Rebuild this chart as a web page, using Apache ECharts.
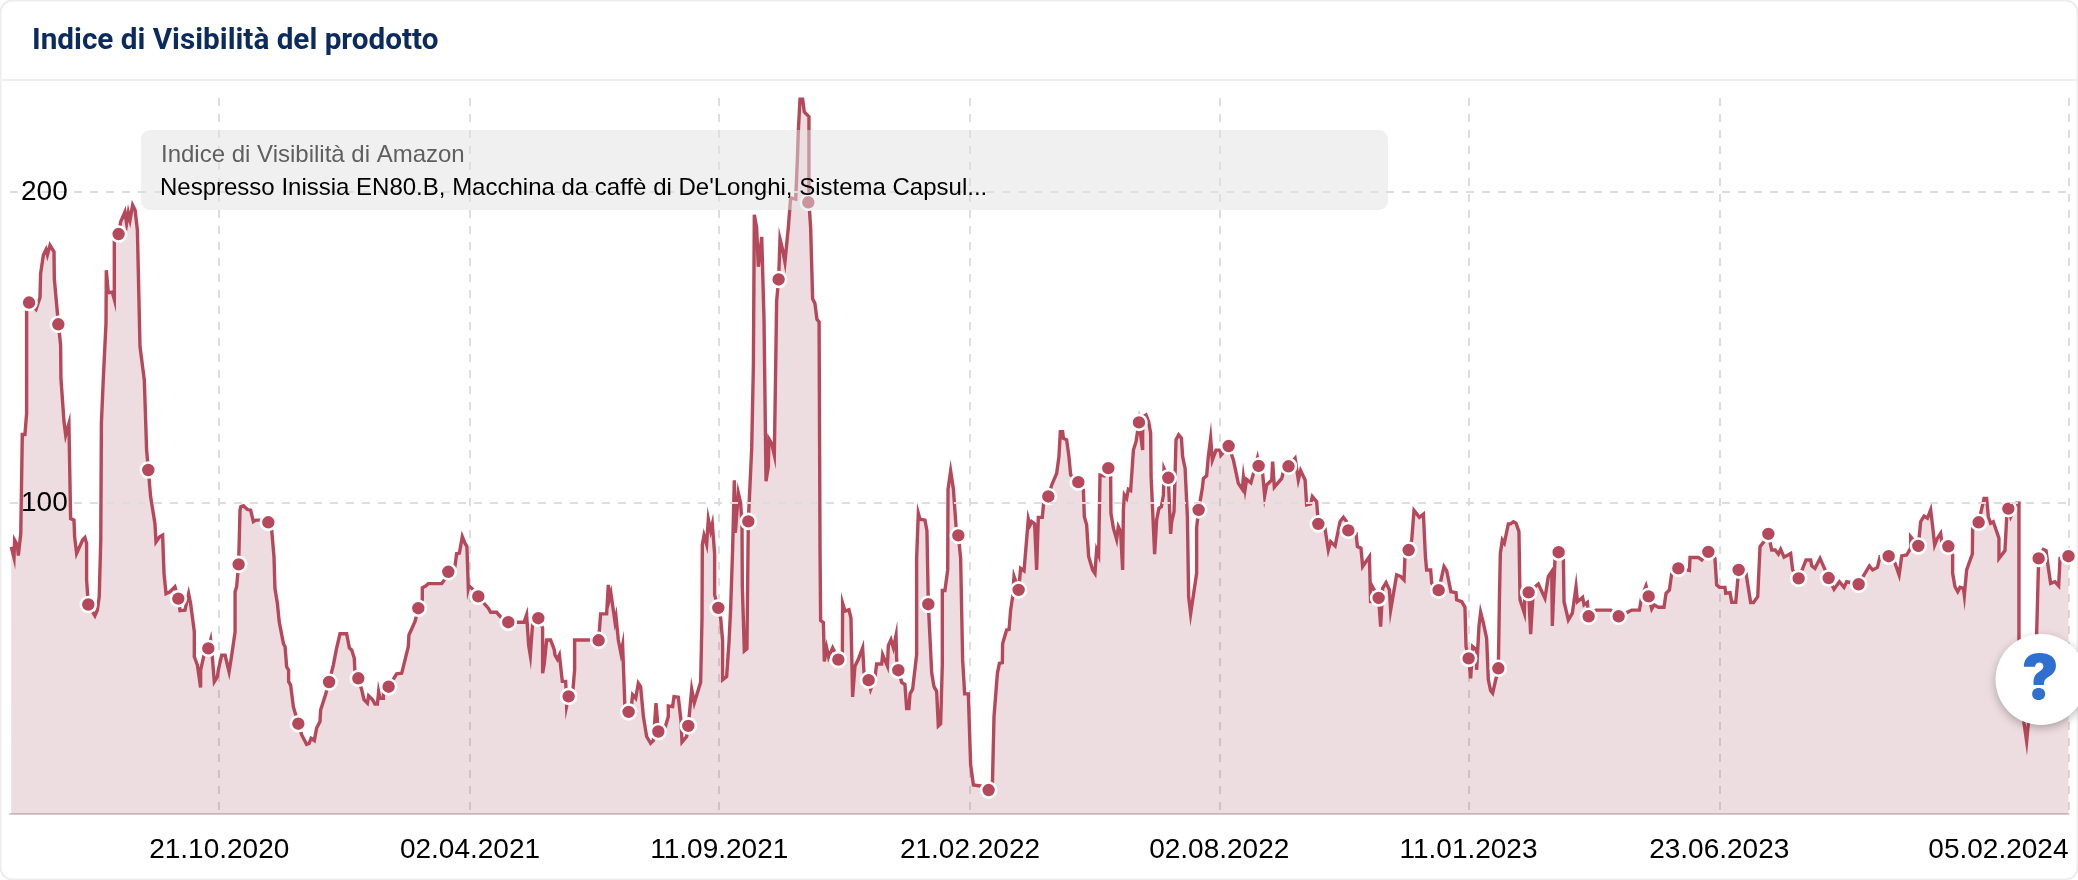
<!DOCTYPE html>
<html><head><meta charset="utf-8">
<style>html,body{margin:0;padding:0;background:#fff}#c{width:2078px;height:880px}</style>
<script src="https://cdn.jsdelivr.net/npm/echarts@6/dist/echarts.min.js"></script>
</head><body><div id="c"></div>
<script>
const chartTitle = "Indice di Visibilità del prodotto";
const boxTitle = "Indice di Visibilità di Amazon";
const boxProduct = "Nespresso Inissia EN80.B, Macchina da caffè di De'Longhi, Sistema Capsul...";
const tickDays = [136,299,461,624,786,948,1111,1338];
const tickLabels = ["21.10.2020","02.04.2021","11.09.2021","21.02.2022","02.08.2022","11.01.2023","23.06.2023","05.02.2024"];
const yTicks = [100,200];
// days since 07.06.2020, index value
const visibility = [
[0.8,85.8],[2.6,82.3],[3,88],[4.8,86.4],[5.4,83],[7,90.1],[8,121.9],[9.7,121.9],[10.8,128.7],[10.8,164],[12.4,164.3],[16.9,162.1],[19.5,165.9],[19.9,173.6],[21.7,179.6],[23.4,181.3],[24.3,179.6],[26,182.7],[28.6,180.6],[28.8,172],[31.4,157.6],[32.9,150.6],[33.1,139.9],[35.1,126],[36.2,121.7],[38.3,125.4],[39.4,94.9],[41.6,94.4],[42,89],[43.3,83.7],[47.2,88],[48.7,88.8],[49.8,86.9],[49.8,75.1],[50.9,67.3],[55.2,63.7],[56.8,65.5],[58,69.8],[59,88],[59.4,125.5],[60.7,140.4],[62.4,157.6],[62.6,174.7],[63.9,167.4],[66.5,167.7],[67.8,165.3],[67.8,186],[70.6,186.3],[71.9,190.2],[74.7,193.4],[75.8,189.7],[76.9,193.1],[78,190.8],[79.7,195.6],[81.3,194],[82.8,187.6],[84.5,150.1],[87.3,139.4],[88.8,116.9],[89.9,110.5],[91.4,101.9],[94.2,93.3],[94.9,87.4],[97.1,89],[99.2,89.6],[100.1,77.3],[101.4,70.8],[104,71.4],[107.2,73],[109.4,69.2],[110.5,65.3],[113.7,65.5],[116.1,70.8],[117.4,67.6],[119.8,58.5],[119.8,50.5],[121.8,47.8],[123.9,40.6],[123.9,46.2],[126.1,51],[128.9,53.2],[130.4,55.9],[131.5,50.5],[132.8,42.5],[134.8,44.1],[135.4,46.2],[137.6,51],[139.8,51],[142.4,45.7],[144.1,51],[146.3,58.5],[146.3,71.4],[147.3,73],[148.6,80.2],[149.5,97.6],[150,98.7],[151.7,99],[154.3,97.8],[156.4,97.6],[158.2,93.9],[159.9,94.4],[162.9,94.4],[167.9,93.7],[170.1,91.2],[171.6,82.6],[172.2,72.5],[173.8,67.6],[175,61.7],[176.1,61.5],[177.7,54.8],[178.8,53.7],[179.8,47.3],[181.1,46.2],[181.1,42.5],[182.4,41.4],[184.2,34.4],
[187.4,29],[189.6,25.4],[192.8,22.4],[194.4,22.7],[195.7,24.3],[197.8,23.6],[199.3,27.6],[201.5,29.7],[201.9,33.4],[204.7,37.7],[207.4,42.4],[210.2,47.9],[212.3,53.3],[214.5,57.9],[218.8,57.9],[220.6,53.3],[222.1,52.7],[223.8,50],[224.3,44.2],[226.4,43.6],[228.6,39.9],[230.1,36.7],[232.3,35.6],[233.1,38],[235.7,36.7],[237.2,35.3],[238.8,35.3],[239.6,39.3],[240.5,37.2],[242.7,37.2],[242.7,39.9],[246.1,40.9],[251.3,45],[254.6,45.2],[258.9,53.8],[259.3,57.5],[263.2,61.8],[265.4,66.1],[268,68.8],[268,72.7],[270.4,73.3],[271.9,74],[280.6,74],[282.3,75.2],[284.9,77.8],[289.2,79.5],[290.3,83.6],[292.1,83.8],[294,89.1],[295.7,87],[297,85.9],[297.9,72.5],[298.3,73.3],[301.2,72],[304.4,69.9],[307.7,67.9],[310.9,66.1],[312.4,64.8],[316.3,64.8],[319.6,62.9],[323.9,61.6],[334.1,61.6],[335.8,64],[337.1,54.3],[338.2,50.9],[339.7,61.3],[343.4,62.9],[346.2,59.7],[346.2,45.2],[347.3,48.4],[348.8,55.9],[351.4,55.9],[353.8,52.7],[354.2,51.1],[355.8,49.7],[357.1,51.1],[359,42.6],[361.2,42.6],[361.8,34.7],[363.1,37.8],[365.7,38.8],[367,46.3],[367,55.9],[380.2,55.9],[382.6,55.8],[383.9,64.3],[387.8,64.3],[388.9,73.6],[389.6,69],[390.6,70.9],[393.2,61.8],[393.9,63.4],[395.4,55.9],[397.1,51.6],[398.2,54.3],[399.8,32.9],[402.1,32.8],[404.1,35.6],[404.7,38.3],[406.7,37.2],[408.4,42],[409.9,40.9],[411.7,31.3],[413.8,24.9],[416.4,22.7],[418.2,23.6],[419.9,35.6],[421.4,26.5],[425.7,27.6],[427.9,31.3],[427.9,34.7],[430.7,34.5],[431.6,37.7],[434.4,37.5],[436.1,30.2],[436.8,23.1],[439.8,24.9],[440.9,28.3],
[443.1,40.1],[444.8,35.7],[448.9,42.3],[449.8,63],[450,86.6],[451.1,89.5],[452.8,86.6],[453.9,94.7],[455.4,91],[456.5,93.2],[458,83.6],[458,70.4],[460.4,66.2],[461.9,63],[463.2,55.6],[463.2,43.1],[465.8,44.1],[467.4,55.6],[468.4,65.9],[469.7,85.1],[470.8,107.2],[471.5,90.3],[472.8,90.3],[473.4,103.1],[474.9,99.9],[475.8,92.5],[476,73.3],[477.3,52.4],[479,53.1],[479.9,94],[482.1,117.6],[483.2,144.1],[483.8,192.5],[485.3,188.4],[486.4,175.8],[488.6,185.4],[490.1,158.9],[491.4,106.9],[492.9,111.6],[493.3,120.5],[495.1,119],[496.8,115.3],[497.7,144.1],[498.3,164.8],[499.6,171.7],[500.5,184.7],[502,181.7],[503.7,177.3],[505.9,188.4],[507.4,197.9],[510.7,197.5],[511.8,210.5],[512.4,219.3],[513.5,229.6],[515.2,229.6],[516.3,225.5],[519.3,224],[519.3,196.5],[520.4,188.4],[521.7,165.5],[523.2,164],[524.5,158.9],[525.9,158.1],[526.5,85.1],[526.9,62.2],[528.7,61.5],[529.3,49],[530.8,53.4],[532.1,50.4],[534.7,53.4],[538.4,49.6],[541,49.7],[541.2,67.7],[542.7,65.2],[545.3,65.6],[546.6,63],[547.7,37.6],[549.2,47.5],[551.4,49.7],[554.2,53.4],[555.1,45.3],[558.1,43],[559.4,40.1],[562.2,43.8],[563.3,48.2],[566.6,48.2],[567.2,51.2],[570.3,47.5],[570.9,54.1],[572.6,56],[574.2,53.4],[575.9,57.4],[576.3,49.7],[577.4,46.2],[579.6,42.3],[581.7,41.6],[582.8,33.9],[584.3,33.9],[585,38.6],[586.7,40.1],[589.3,51.2],[589.3,82.2],[590.4,96.6],[591.5,94.7],[594.7,94.4],[596,91],[596.9,67.4],[599.1,45.3],[600.6,40.9],[602.3,39.4],[603.4,28.3],[604.9,29],[606,48.2],[606,71.8],[607.7,71.8],[609.5,78.5],[609.7,104.3],[611.4,110.2],[613.2,104.3],[614.9,92.5],[616.4,89.5],[617.9,82.2],[619.2,49.5],[620.5,38.6],
[622.9,38.6],[624.4,15.8],[626.2,9.3],[630.9,9],[636.1,7.7],[638.5,8.3],[639.6,31.3],[641.8,45.2],[643.1,48.4],[645,48.6],[645.2,54.8],[647.8,59.1],[649.4,59.3],[650.4,65.5],[651.7,69.8],[652.6,76.3],[655.6,72],[656.9,78.9],[659.1,78.1],[661.9,94.8],[663,92.8],[664.1,93.9],[666,93.2],[667.3,78.4],[668.4,95.3],[671,95.3],[671.9,100.3],[674.9,102],[677.1,105.7],[680.3,109.4],[681.8,114.8],[682.7,122.8],[684.2,122.8],[684.7,120.7],[686.8,120.2],[688.3,114.8],[689.4,108.9],[694.4,106.6],[697.7,104.1],[698.3,95.5],[699.8,92.9],[701.1,92.5],[701.1,82.7],[703.7,78.4],[705.2,77.3],[706.3,84.8],[707.6,83.2],[708.5,108.9],[711.3,108.6],[713.9,111.1],[715.4,108.4],[715.6,96.6],[717.2,91.8],[719.3,88.2],[720.4,92.3],[721.9,90.7],[723.2,78.4],[723.7,97.7],[724.3,102.5],[725.8,101.4],[726.9,104.3],[728.4,103.9],[730.2,116.9],[731.9,119.6],[733.8,125.8],[736.2,116.9],[736.2,127.6],[738.4,128.2],[740.1,126],[741.4,122.3],[741.7,108.4],[744,83.5],[745.3,94.5],[746.8,98.2],[748.4,98.7],[749.7,102.5],[750.1,111],[752.9,108],[754.4,90],[755.1,93.9],[756.6,97.1],[757.9,120.2],[759.6,121.8],[761.4,120.7],[762.2,114.8],[763.8,111],[765.3,95.5],[766.1,69.8],[767.4,64.3],[771.3,77.3],[771.3,92],[772.6,97.7],[775,104.6],[775.7,107.8],[777.8,108.6],[778.9,114.8],[780.4,120.7],[781.5,113.7],[783.9,116.9],[786.5,116.9],[787.1,115.3],[792.1,118.2],[795.2,113.7],[798.4,106.2],[801,104.3],[801.7,108.2],[802.8,104.3],[803.8,107.5],[806.6,106.4],[810.8,114.3],[811.6,111.8],[814.2,109.4],[815.5,102.2],[816.8,105.7],[820.1,107.3],[820.7,113.2],[821.8,105],[826.6,107.8],[827.7,110],[831,111.7],
[835.3,114.3],[837.4,107.3],[838.9,110.3],[841.8,107.3],[842.8,99.3],[845.4,99.6],[846.5,102],[849.3,100.3],[850.4,93.2],[854.7,91.8],[856.9,84.8],[858.4,87.5],[861.3,86.1],[864.5,93.9],[866.7,95.3],[868.8,93.9],[869.9,91.1],[874.9,90.2],[875.8,85.9],[878.1,85.4],[879.2,79.5],[883.6,82.7],[884.4,67.7],[884.4,74.1],[889.6,69.4],[890.9,60.2],[892.2,72.5],[894.4,74.3],[896.6,72],[897.4,65.5],[901.3,76.8],[903.9,76.3],[906.1,75.2],[906.7,82.7],[909.1,84.8],[911.1,88],[912.6,97.5],[916.1,95.3],[918.7,96.3],[920,82.7],[920.8,78.4],[923.4,78.4],[924.1,74.1],[928.6,71.9],[932.1,79.5],[933.8,78.2],[936.6,71.4],[939.9,71.1],[940.3,68.8],[943.6,68.2],[945.7,66.4],[946.4,53.8],[948.1,50],[949.4,43.6],[950.7,53.8],[953.3,52.7],[953.3,46.3],[954.8,60.2],[955.9,64.8],[957.7,61.3],[959.8,56.4],[960.9,43.1],[962.4,39.6],[963.7,38.8],[967.4,46.8],[968.1,68.8],[968.7,83.7],[970,88],[971.3,87],[973.9,93.2],[975.4,93.2],[977.2,93.9],[978.9,93.4],[980.8,90.7],[981.5,68.8],[984.3,64.5],[984.7,70.9],[987.1,71.2],[988.4,57.8],[990.2,72.5],[993.4,73.9],[997.7,69.3],[999.9,76.3],[1002.1,77.9],[1002.5,60.4],[1004.2,81.6],[1006.6,84.1],
[1009.7,81.6],[1010.1,68.2],[1012.9,62.3],[1015.5,64.5],[1017.9,73],[1018.8,68.2],[1022.2,69.6],[1023.1,67.2],[1025.3,68],[1026.1,63.5],[1030.9,65.5],[1040.4,65.5],[1045.6,63.5],[1050.8,64.7],[1054.1,65.5],[1059.1,65.5],[1060.6,69.8],[1063.4,73.3],[1065.1,69.9],[1067.1,65.9],[1068.6,67.2],[1071.4,66.4],[1075.1,66.4],[1076.4,70.9],[1078.6,72],[1080.1,77.3],[1084.4,78.9],[1091.6,78.2],[1092,82.4],[1097.4,82.4],[1099.6,81.6],[1103.9,84.2],[1108.2,82.1],[1109.3,73.6],[1111.1,72.8],[1114.7,72.8],[1115.2,70.9],[1118,71.1],[1119.1,68],[1121.7,68],[1123.6,78.4],[1128.4,77.3],[1131.4,67.9],[1133.2,67.9],[1136,69.8],[1137.5,85.9],[1140.1,87.5],[1142.9,90],[1145.1,84.8],[1147.3,84.8],[1148.3,85.4],[1149.4,83.5],[1150.9,85],[1153.1,82.5],[1157.4,83.7],[1158.7,78.4],[1162.6,75.7],
[1165.7,79.5],[1167.4,81.6],[1170.4,81.6],[1171.1,79.7],[1173.2,78.9],[1176.5,82.1],[1179.8,78.4],[1182.1,75.8],[1185.6,72.2],[1189.1,74.6],[1192.1,72.8],[1193.8,74.6],[1201.6,73.8],[1205.1,76.8],[1208.6,79.7],[1210.7,78.4],[1213.8,79.2],[1215.5,82.7],[1221.1,82.8],[1225.3,80.5],[1227.9,76.8],[1229.6,82.9],[1232.8,83.2],[1235.4,85.4],[1235.4,89.1],[1240.4,86.1],[1241.9,93.9],[1244.1,95.7],[1246.3,95],[1248.4,97.7],[1249.7,92.3],[1251,86.4],[1252.8,88.6],[1254.9,90.2],[1255.6,87.5],[1259.9,86],[1262.7,83.2],[1262.7,77.3],[1264.2,73],[1266,71.4],[1267.5,72.8],[1269.7,72.5],[1270.3,70.2],[1271.8,78.4],[1275.5,83.5],[1275.7,91.8],[1279.6,93.7],[1283.1,101.4],[1284.8,101.4],[1285.9,95.5],[1287.4,93.4],[1289.1,93.9],[1292.8,88.6],[1292.8,82.1],[1296.7,84.6],[1297.8,95],[1298.9,98.1],[1300.4,95.5],[1304.3,99.8],[1305.8,99.8],[1305.8,53.8],[1309.1,29.1],[1310.8,23.3],[1311.9,29.1],[1317.3,58],[1318.6,82.1],[1321.7,85],[1323.4,84.6],[1324.9,79],[1326.4,74.1],[1329.2,74.6],[1331.6,73.3],[1332.5,82.1],[1338,82.8]
];
const markers = [
[12.4,164.3],[31.4,157.3],[50.9,67.3],[70.6,186.3],[89.9,110.5],[109.4,69.2],[128.9,53.2],[148.6,80.2],[167.9,93.7],[187.4,29],[207.4,42.4],[226.4,43.6],[246.1,40.9],[265.4,66.1],[284.9,77.8],[304.4,69.9],[323.9,61.6],[343.4,62.9],[363.1,37.8],[382.6,55.8],[402.1,32.8],[421.4,26.5],[440.9,28.3],[460.4,66.2],[479.9,94],[499.6,171.7],[518.9,196.5],[538.4,49.6],[558.1,43],[577.4,46.2],[596.9,67.4],[616.4,89.5],[636.1,7.7],[655.6,72],[674.9,102],[694.4,106.6],[713.9,111.1],[733.8,125.8],[752.9,108],[772.6,97.7],[792.1,118.2],[811.6,111.8],[831,111.7],[850.4,93.2],[869.9,91.1],[889.6,69.4],[909.1,84.8],[928.6,71.9],[948.1,50],[967.4,46.8],[987.1,71.2],[1006.6,84.1],[1026.1,63.5],[1045.6,63.5],[1065.1,69.9],[1084.4,78.9],[1103.9,84.2],[1123.6,78.4],[1142.9,90],[1162.6,75.7],[1182.1,75.8],[1201.6,73.8],[1221.1,82.8],[1240.4,86.1],[1259.9,86],[1279.6,93.7],[1298.9,98.1],[1318.6,82.1],[1338,82.8]
];
const RED = "#b5495b";
const chart = echarts.init(document.getElementById("c"), null, {renderer:"canvas"});
chart.setOption({
  animation:false,
  backgroundColor:"#fff",
  title:{text:chartTitle,left:32,top:27,padding:0,textStyle:{fontFamily:"Roboto",fontWeight:700,fontSize:29.7,color:"#0b2b5e"}},
  grid:{left:10,right:9.5,top:98,bottom:66},
  xAxis:{type:"value",min:0,max:1338,
    axisLine:{show:true,onZero:false,lineStyle:{color:"#d4cdcf",width:2}},
    axisTick:{show:false,customValues:tickDays},
    axisLabel:{customValues:tickDays,alignMaxLabel:"right",margin:22,fontFamily:"Liberation Sans",fontSize:28,color:"#000",
      formatter:v=>tickLabels[tickDays.indexOf(v)]||""},
    splitLine:{show:true,lineStyle:{color:"#dddddd",width:2,type:[8,8]}}},
  yAxis:{type:"value",min:0,max:230,z:10,
    axisLine:{show:false},
    axisTick:{show:false,customValues:yTicks},
    axisLabel:{customValues:yTicks,inside:true,margin:11,verticalAlign:"bottom",padding:[0,0,-15,0],fontFamily:"Liberation Sans",fontSize:28,color:"#000"},
    splitLine:{show:true,lineStyle:{color:"#dddddd",width:2,type:[8,8]}}},
  series:[
    {type:"line",data:visibility,showSymbol:false,smooth:false,clip:false,z:3,
      lineStyle:{color:RED,width:3.4,join:"miter"},areaStyle:{color:"#a0495a",opacity:0.19}},
    {type:"scatter",data:markers,symbol:"circle",symbolSize:15,clip:false,z:4,
      itemStyle:{color:RED,borderColor:"#fff",borderWidth:2.6,opacity:1}}
  ],
  graphic:[
    {type:"rect",z:0,silent:true,shape:{x:0.5,y:0.5,width:2077,height:879,r:12},style:{fill:null,stroke:"#ededed",lineWidth:2}},
    {type:"line",z:0,silent:true,shape:{x1:0,y1:80,x2:2078,y2:80},style:{stroke:"#efefef",lineWidth:2}},
    {type:"rect",z:50,silent:true,shape:{x:141,y:130,width:1247,height:80,r:9},style:{fill:"rgba(225,225,225,0.5)"}},
    {type:"text",z:51,silent:true,x:161,y:155,style:{text:boxTitle,fill:"#5f5f5f",font:"24px 'Liberation Sans'",verticalAlign:"middle"}},
    {type:"text",z:51,silent:true,x:160,y:188,style:{text:boxProduct,fill:"#000",font:"24px 'Liberation Sans'",verticalAlign:"middle"}},
    {type:"circle",z:60,silent:true,shape:{cx:2041,cy:679.5,r:45.5},style:{fill:"#fff",shadowBlur:10,shadowColor:"rgba(0,0,0,0.28)",shadowOffsetY:3}},
    {type:"text",z:61,silent:true,x:2040,y:680,style:{text:"?",fill:"#2e6fd0",font:"900 62px Inter",align:"center",verticalAlign:"middle"}}
  ]
});
</script></body></html>
